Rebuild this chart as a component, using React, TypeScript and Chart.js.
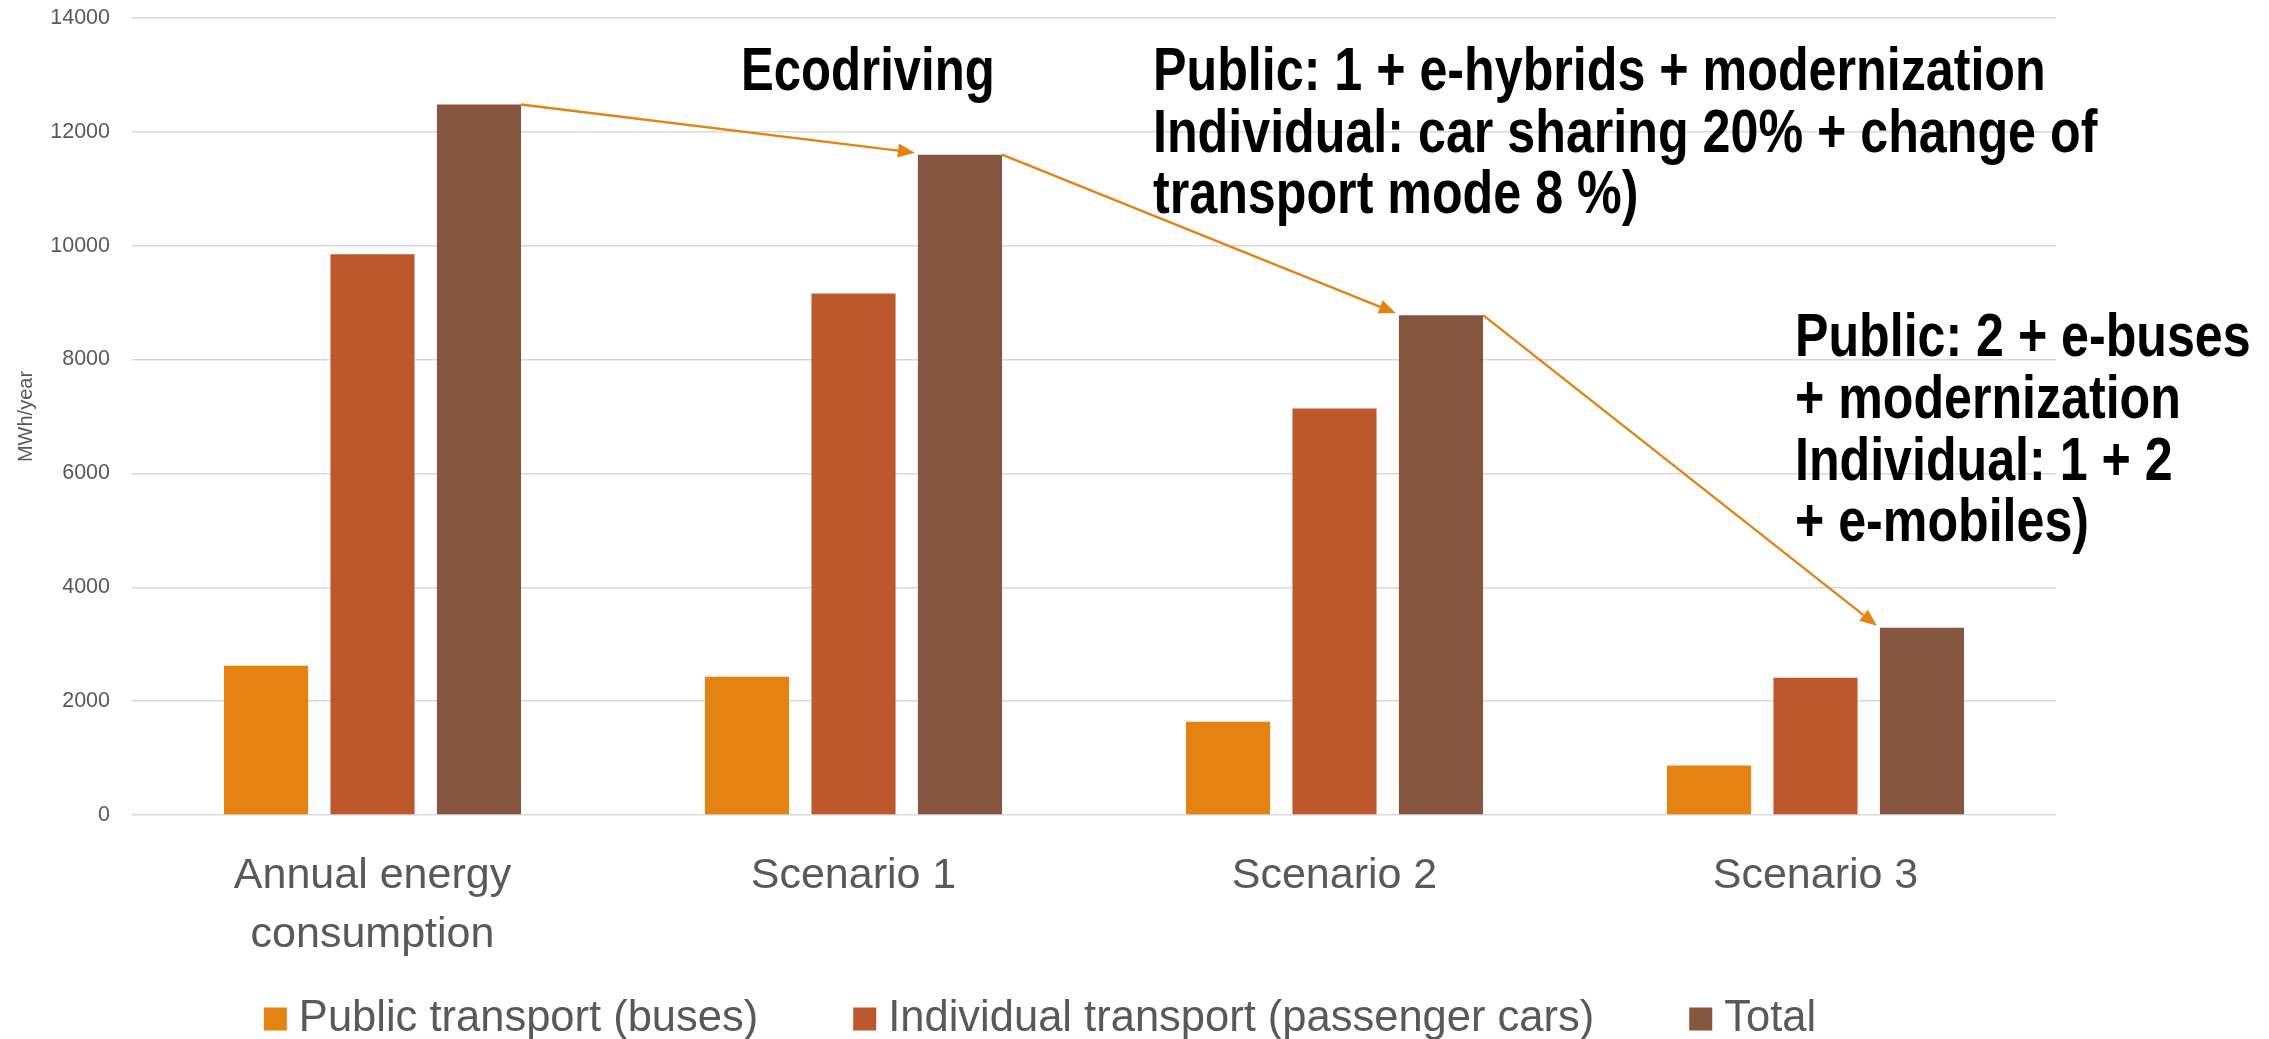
import React, { useEffect, useRef } from 'react';
import { Chart, registerables } from 'chart.js';

Chart.register(...registerables);

// ---- data ----
const categories: (string | string[])[] = [['Annual energy', 'consumption'], 'Scenario 1', 'Scenario 2', 'Scenario 3'];
const seriesNames = ['Public transport (buses)', 'Individual transport (passenger cars)', 'Total'];
const publicTransport = [2620, 2430, 1640, 870];
const individualTransport = [9850, 9160, 7140, 2410];
const totalConsumption = [12480, 11600, 8780, 3290];
const yMin = 0;
const yMax = 14000;
const yStep = 2000;
const yAxisTitle = 'MWh/year';
const noteEcodriving = ['Ecodriving'];
const noteScenario2 = ['Public: 1 + e-hybrids + modernization', 'Individual: car sharing 20% + change of', 'transport mode 8 %)'];
const noteScenario3 = ['Public: 2 + e-buses', '+ modernization', 'Individual: 1 + 2', '+ e-mobiles)'];

// ---- styles / layout ----
const COLORS = ['#E48312', '#BD582C', '#865640'];
const ARROW_COLOR = '#E48312';
const TEXT_GREY = '#595959';
const GRID = '#D9D9D9';
const FONT = '"Liberation Sans", Arial, sans-serif';
const W = 2269;
const H = 1039;
const NOTE_FONT_SIZE = 61;
const NOTE_LAYOUT = [
  { lines: noteEcodriving, x: 741, baseline: 90, step: 61.5, hscale: 0.805 },
  { lines: noteScenario2, x: 1153, baseline: 90, step: 61.5, hscale: 0.823 },
  { lines: noteScenario3, x: 1795, baseline: 356, step: 61.8, hscale: 0.822 },
];
const LEGEND = { centerX: 1040, midY: 1019, box: 23, gapText: 12, gapItem: 95, fontSize: 43.5 };

export default function App() {
  const ref = useRef<HTMLCanvasElement>(null);
  useEffect(() => {
    document.body.style.margin = '0';
    document.body.style.overflow = 'hidden';
    const canvas = ref.current!;

    const arrowPlugin = {
      id: 'arrows',
      afterDatasetsDraw(chart: any) {
        const meta = chart.getDatasetMeta(2);
        const ctx = chart.ctx as CanvasRenderingContext2D;
        ctx.save();
        ctx.strokeStyle = ARROW_COLOR;
        ctx.fillStyle = ARROW_COLOR;
        ctx.lineWidth = 2.4;
        for (let i = 0; i < meta.data.length - 1; i++) {
          const a: any = meta.data[i];
          const b: any = meta.data[i + 1];
          const x0 = a.x + a.width / 2;
          const y0 = a.y;
          const x1 = b.x - b.width / 2 - 3;
          const y1 = b.y - 2;
          const ang = Math.atan2(y1 - y0, x1 - x0);
          const head = 17;
          const hw = 7;
          const bx = x1 - head * Math.cos(ang);
          const by = y1 - head * Math.sin(ang);
          ctx.beginPath();
          ctx.moveTo(x0, y0);
          ctx.lineTo(bx, by);
          ctx.stroke();
          ctx.beginPath();
          ctx.moveTo(x1, y1);
          ctx.lineTo(bx + hw * Math.sin(ang), by - hw * Math.cos(ang));
          ctx.lineTo(bx - hw * Math.sin(ang), by + hw * Math.cos(ang));
          ctx.closePath();
          ctx.fill();
        }
        ctx.restore();
      },
    };

    const notesAndLegendPlugin = {
      id: 'notesLegend',
      afterDraw(chart: any) {
        const ctx = chart.ctx as CanvasRenderingContext2D;
        // annotations
        ctx.save();
        ctx.fillStyle = '#000000';
        ctx.font = `bold ${NOTE_FONT_SIZE}px ${FONT}`;
        ctx.textBaseline = 'alphabetic';
        ctx.textAlign = 'left';
        for (const block of NOTE_LAYOUT) {
          block.lines.forEach((line, i) => {
            ctx.save();
            ctx.translate(block.x, block.baseline + i * block.step);
            ctx.scale(block.hscale, 1);
            ctx.fillText(line, 0, 0);
            ctx.restore();
          });
        }
        ctx.restore();

        // legend
        ctx.save();
        ctx.font = `${LEGEND.fontSize}px ${FONT}`;
        ctx.textBaseline = 'middle';
        ctx.textAlign = 'left';
        const items = chart.data.datasets.map((ds: any) => ({
          label: ds.label as string,
          color: ds.backgroundColor as string,
          w: ctx.measureText(ds.label).width,
        }));
        const totalW = items.reduce((s: number, it: any) => s + LEGEND.box + LEGEND.gapText + it.w, 0) + LEGEND.gapItem * (items.length - 1);
        let x = LEGEND.centerX - totalW / 2;
        for (const it of items) {
          ctx.fillStyle = it.color;
          ctx.fillRect(x, LEGEND.midY - LEGEND.box / 2, LEGEND.box, LEGEND.box);
          x += LEGEND.box + LEGEND.gapText;
          ctx.fillStyle = TEXT_GREY;
          ctx.fillText(it.label, x, LEGEND.midY);
          x += it.w + LEGEND.gapItem;
        }
        ctx.restore();
      },
    };

    const chart = new Chart(canvas, {
      type: 'bar',
      data: {
        labels: categories as any,
        datasets: [
          { label: seriesNames[0], data: publicTransport, backgroundColor: COLORS[0] },
          { label: seriesNames[1], data: individualTransport, backgroundColor: COLORS[1] },
          { label: seriesNames[2], data: totalConsumption, backgroundColor: COLORS[2] },
        ],
      },
      options: {
        responsive: false,
        animation: false,
        layout: { padding: { top: 18, right: 213, bottom: 0, left: 0 } },
        datasets: { bar: { categoryPercentage: 0.664, barPercentage: 0.79 } },
        plugins: {
          legend: { display: false },
          tooltip: { enabled: false },
        },
        scales: {
          x: {
            grid: { display: false, drawTicks: false },
            border: { display: false },
            ticks: {
              color: TEXT_GREY,
              font: { family: FONT, size: 43, lineHeight: 1.37 },
              padding: 32,
              maxRotation: 0,
              autoSkip: false,
            },
            afterFit(scale: any) {
              scale.height = 224;
              scale.paddingLeft = 0;
              scale.paddingRight = 0;
            },
          },
          y: {
            min: yMin,
            max: yMax,
            grid: { color: GRID, lineWidth: 1.5, drawTicks: false },
            border: { display: false },
            ticks: {
              stepSize: yStep,
              color: TEXT_GREY,
              font: { family: FONT, size: 21.5 },
              padding: 22,
              callback: (v: any) => String(v),
            },
            title: {
              display: true,
              text: yAxisTitle,
              color: TEXT_GREY,
              font: { family: FONT, size: 20 },
              padding: { top: 14, bottom: 0 },
            },
            afterFit(scale: any) {
              scale.width = 132;
              scale.paddingTop = 0;
              scale.paddingBottom = 0;
            },
          },
        },
      },
      plugins: [arrowPlugin, notesAndLegendPlugin],
    });
    return () => chart.destroy();
  }, []);

  return (
    <div style={{ width: W, height: H, background: '#ffffff' }}>
      <canvas ref={ref} width={W} height={H} style={{ display: 'block' }} />
    </div>
  );
}
